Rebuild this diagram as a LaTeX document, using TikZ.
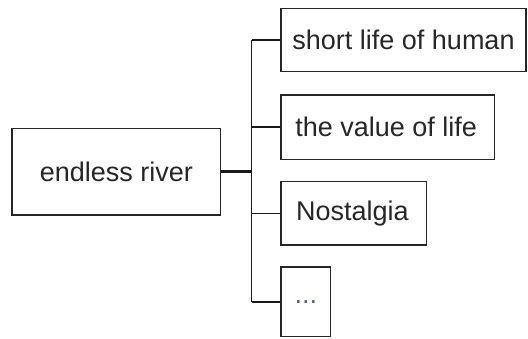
\documentclass[tikz,border=0pt]{standalone}
\usepackage{fontspec}
\setmainfont{Liberation Sans}
\tikzset{
	box/.style={draw=black!85, line width=1.5pt, inner sep=0pt, text=black!85, font=\fontsize{27}{31}\selectfont},
	link/.style={draw=black!90, line width=1.5pt},
}

\begin{document}
\begin{tikzpicture}[x=1pt, y=-1pt]
			%%%%% START %%%%%
			
			\useasboundingbox (0, 0) rectangle (528, 339);
			
			\node[box, minimum width=208.7pt, minimum height=86.7pt] (river) at (116.3, 171.7) {endless river};
			
			\node[box, minimum width=245pt, minimum height=63pt] (human) at (403.5, 39.8) {short life of human};
			\node[box, minimum width=213.3pt, minimum height=64.3pt] (value) at (387.7, 127.2) {\hspace*{-3pt}the value of life};
			\node[box, minimum width=145.7pt, minimum height=63.3pt] (nostalgia) at (353.8, 213.3) {\hspace*{-3pt}Nostalgia};
			\node[box, minimum width=49.7pt, minimum height=69.5pt] (more) at (305.8, 301.8) {\textcolor[HTML]{55607A}{...}};
			
			\coordinate (hub) at (251.5, 171.7);
			\draw[link, line width=2.5pt] (river.east) -- (hub);
			\draw[link] (hub |- human.west) -- (hub |- more.west);
			
			\draw[link] (hub |- human.west) -- (human.west);
			\draw[link] (hub |- value.west) -- (value.west);
			\draw[link] (hub |- nostalgia.west) -- (nostalgia.west);
			\draw[link] (hub |- more.west) -- (more.west);
			
			%%%%% END %%%%%
\end{tikzpicture}
\end{document}
